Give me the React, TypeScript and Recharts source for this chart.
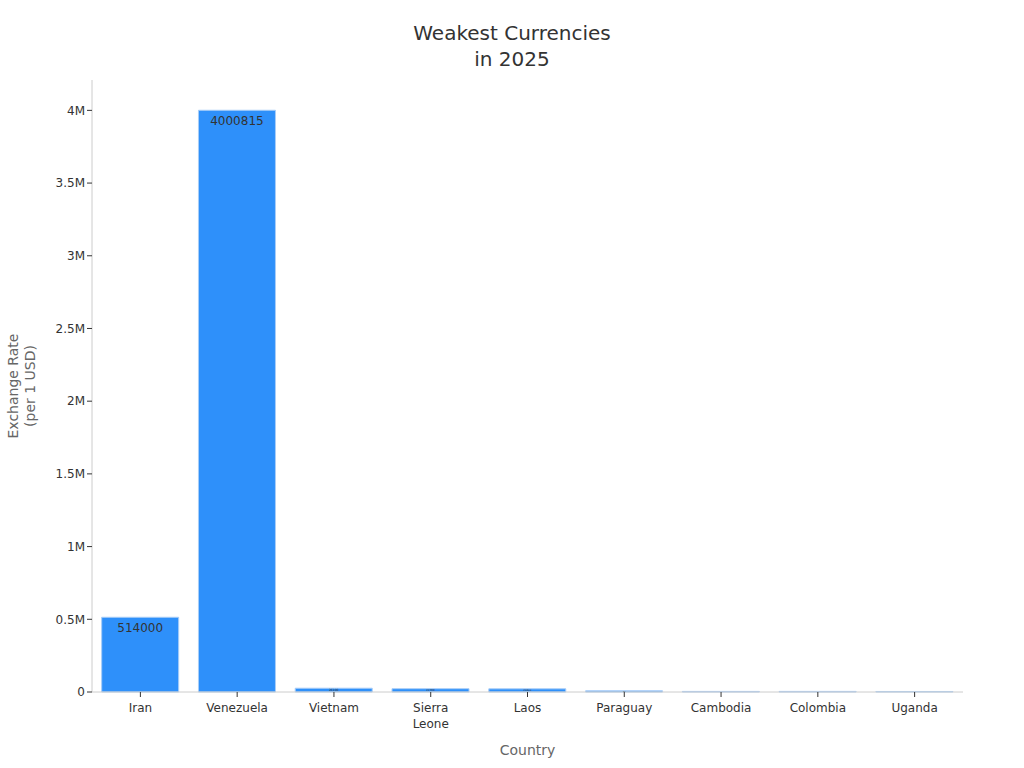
import React from 'react';
import { BarChart, Bar, XAxis, YAxis, LabelList } from 'recharts';

const countries = ['Iran', 'Venezuela', 'Vietnam', 'Sierra Leone', 'Laos', 'Paraguay', 'Cambodia', 'Colombia', 'Uganda'];
const rates = [514000, 4000815, 26100, 22700, 21800, 7900, 4000, 4100, 3650];
const yTicks = [0, 500000, 1000000, 1500000, 2000000, 2500000, 3000000, 3500000, 4000000];

const data = countries.map((country, i) => ({ country, rate: rates[i] }));

const FONT = '"DejaVu Sans", sans-serif';

const formatY = (v: number) => (v === 0 ? '0' : `${v / 1000000}M`);

const CountryTick = ({ x, y, payload }: any) => {
  const words = String(payload.value).split(' ');
  return (
    <text x={x} y={y + 13} textAnchor="middle" fill="#333" fontSize={12} fontFamily={FONT}>
      {words.map((w, i) => (
        <tspan key={i} x={x} dy={i === 0 ? 0 : 16}>
          {w}
        </tspan>
      ))}
    </text>
  );
};

// value label sits inside the top of the bar, shrinks on very short bars
const ValueLabel = ({ x, y, width, height, value }: any) => {
  const size = Math.min(12, height * 0.8);
  if (size < 0.8) return null;
  const dy = height >= 16 ? 15 : size;
  return (
    <text x={x + width / 2} y={y + dy} textAnchor="middle" fill="#333" fontSize={size} fontFamily={FONT}>
      {value}
    </text>
  );
};

export default function App() {
  return (
    <div style={{ position: 'absolute', left: 0, top: 0, width: 1024, height: 768, background: '#fff', fontFamily: FONT }}>
      <div style={{ position: 'absolute', top: 20, left: 0, width: 1024, textAlign: 'center', fontSize: 20, lineHeight: '26px', color: '#333' }}>
        Weakest Currencies
        <br />
        in 2025
      </div>
      <div
        style={{
          position: 'absolute',
          left: 22,
          top: 386,
          transform: 'translate(-50%, -50%) rotate(-90deg)',
          textAlign: 'center',
          fontSize: 14,
          lineHeight: '17px',
          color: '#666',
          whiteSpace: 'nowrap',
        }}
      >
        Exchange Rate
        <br />
        (per 1 USD)
      </div>
      <div style={{ position: 'absolute', top: 742, left: 92, width: 871, textAlign: 'center', fontSize: 14, color: '#666' }}>
        Country
      </div>
      <BarChart
        width={1024}
        height={768}
        data={data}
        margin={{ top: 80, right: 61, left: 0, bottom: 0 }}
        barCategoryGap="10%"
      >
        <XAxis
          dataKey="country"
          height={76}
          interval={0}
          tick={<CountryTick />}
          tickSize={5}
          axisLine={{ stroke: '#ccc' }}
          tickLine={{ stroke: '#333' }}
        />
        <YAxis
          width={92}
          domain={[0, (max: number) => max * 1.052]}
          ticks={yTicks}
          tickFormatter={formatY}
          tickSize={5}
          tick={{ fill: '#333', fontSize: 12, fontFamily: FONT }}
          axisLine={{ stroke: '#ccc' }}
          tickLine={{ stroke: '#333' }}
        />
        <Bar dataKey="rate" fill="#2E90FA" stroke="#a9cdf7" strokeWidth={1} isAnimationActive={false}>
          <LabelList dataKey="rate" content={<ValueLabel />} />
        </Bar>
      </BarChart>
    </div>
  );
}
